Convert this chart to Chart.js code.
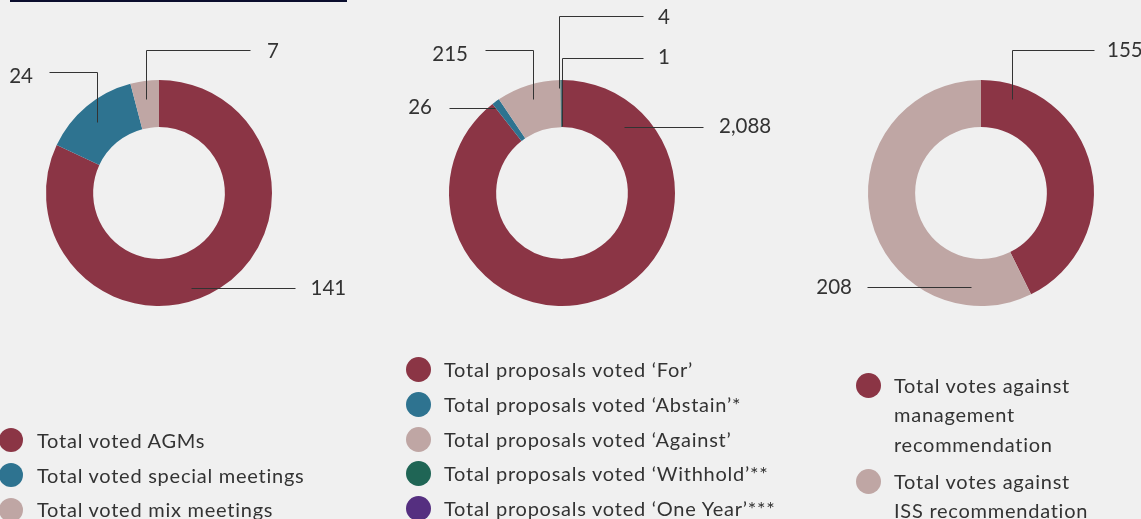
<!DOCTYPE html>
<html>
<head>
<meta charset="utf-8">
<script src="https://cdn.jsdelivr.net/npm/chart.js@4"></script>
<style>
  html, body { margin: 0; padding: 0; background: #f0f0f0; }
  #stage { position: relative; width: 1141px; height: 519px; overflow: hidden; background: #f0f0f0; font-family: Lato, "Open Sans", sans-serif; color: #333; }
  canvas.layer { position: absolute; left: 0; top: 0; pointer-events: none; }
  #rule { position: absolute; left: 10px; top: 0; width: 337px; height: 2px; background: #0b0e2e; }
  .legend { position: absolute; font-size: 20px; letter-spacing: 0.75px; }
  .item { position: relative; }
  .item .dot { position: absolute; border-radius: 50%; }
</style>
</head>
<body>
<div id="stage">
  <div id="rule"></div>
  <canvas id="c1" class="layer" width="1141" height="519"></canvas>
  <canvas id="c2" class="layer" width="1141" height="519"></canvas>
  <canvas id="c3" class="layer" width="1141" height="519"></canvas>
</div>
<script>
// ---------- data ----------
const meetingLabels = ['Total voted AGMs', 'Total voted special meetings', 'Total voted mix meetings'];
const meetingValues = [141, 24, 7];

const proposalLabels = ["Total proposals voted \u2018For\u2019", "Total proposals voted \u2018Abstain\u2019*", "Total proposals voted \u2018Against\u2019", "Total proposals voted \u2018Withhold\u2019**", "Total proposals voted \u2018One Year\u2019***"];
const proposalValues = [2088, 26, 215, 4, 1];

const againstLabels = [['Total votes against', 'management', 'recommendation'], ['Total votes against', 'ISS recommendation']];
const againstValues = [155, 208];

// ---------- styles ----------
const MAROON = '#8b3545', TEAL = '#2e7390', MAUVE = '#bfa6a4', GREEN = '#1f6555', PURPLE = '#552f80';
const meetingColors = [MAROON, TEAL, MAUVE];
const proposalColors = [MAROON, TEAL, MAUVE, GREEN, PURPLE];
const againstColors = [MAROON, MAUVE];

// leader-line layout, offsets relative to the doughnut centre computed by Chart.js
const meetingLeaders = [
  { index: 0, path: [[32, 94.5], [136, 94.5]], text: [151.5, 95], align: 'left' },
  { index: 1, path: [[-62, -71], [-62, -121], [-110, -121]], text: [-126, -117], align: 'right' },
  { index: 2, path: [[-13, -94], [-13, -143], [91, -143]], text: [108, -142], align: 'left' }
];
const proposalLeaders = [
  { index: 0, path: [[62, -66], [141, -66]], text: [157, -67], align: 'left' },
  { index: 1, path: [[-67, -85], [-113, -85]], text: [-130, -86], align: 'right' },
  { index: 2, path: [[-29, -94], [-29, -143], [-77, -143]], text: [-94, -139], align: 'right' },
  { index: 3, path: [[-3, -105], [-3, -177], [81, -177]], text: [96, -176], align: 'left' },
  { index: 4, path: [[0, -67], [0, -135], [81, -135]], text: [96, -136], align: 'left' }
];
const againstLeaders = [
  { index: 0, path: [[31, -94], [31, -143], [113, -143]], text: [126, -143], align: 'left' },
  { index: 1, path: [[-10, 94], [-114, 94]], text: [-129, 94], align: 'right' }
];

const leaderPlugin = {
  id: 'leaders',
  afterDatasetsDraw(chart, args, opts) {
    const meta = chart.getDatasetMeta(0);
    const data = chart.data.datasets[0].data;
    const ctx = chart.ctx;
    ctx.save();
    ctx.strokeStyle = '#333';
    ctx.lineWidth = 1;
    ctx.fillStyle = '#333';
    ctx.font = '20.5px Lato, "Open Sans", sans-serif';
    ctx.textBaseline = 'middle';
    opts.items.forEach(it => {
      const arc = meta.data[it.index];
      const cx = arc.x, cy = arc.y;
      ctx.beginPath();
      it.path.forEach((p, i) => {
        const x = Math.round(cx + p[0]) + 0.5, y = Math.round(cy + p[1]) + 0.5;
        if (i === 0) ctx.moveTo(x, y); else ctx.lineTo(x, y);
      });
      ctx.stroke();
      ctx.textAlign = it.align;
      ctx.fillText(data[it.index].toLocaleString('en-US'), cx + it.text[0], cy + it.text[1]);
    });
    ctx.restore();
  }
};

function makeChart(id, values, colors, leaders, area) {
  return new Chart(document.getElementById(id), {
    type: 'doughnut',
    data: { labels: values.map((_, i) => String(i)), datasets: [{ data: values, backgroundColor: colors, borderWidth: 0, hoverOffset: 0 }] },
    options: {
      responsive: false,
      animation: false,
      events: [],
      cutout: '58.3%',
      layout: { padding: { left: area.left, top: area.top, right: 1141 - area.left - area.size, bottom: 519 - area.top - area.size } },
      plugins: { legend: { display: false }, tooltip: { enabled: false }, leaders: { items: leaders } }
    },
    plugins: [leaderPlugin]
  });
}

makeChart('c1', meetingValues, meetingColors, meetingLeaders, { left: 46, top: 80, size: 226 });
makeChart('c2', proposalValues, proposalColors, proposalLeaders, { left: 449, top: 80, size: 226 });
makeChart('c3', againstValues, againstColors, againstLeaders, { left: 868, top: 80, size: 226 });

// ---------- HTML legends ----------
function makeLegend(labels, colors, cfg) {
  const box = document.createElement('div');
  box.className = 'legend';
  box.style.left = cfg.textX + 'px';
  box.style.top = cfg.top + 'px';
  box.style.lineHeight = cfg.lineHeight + 'px';
  labels.forEach((lab, i) => {
    const item = document.createElement('div');
    item.className = 'item';
    if (i < labels.length - 1) item.style.marginBottom = cfg.gap + 'px';
    const lines = Array.isArray(lab) ? lab : [lab];
    lines.forEach(l => { const d = document.createElement('div'); d.textContent = l; d.style.whiteSpace = 'nowrap'; item.appendChild(d); });
    const dot = document.createElement('span');
    dot.className = 'dot';
    dot.style.width = dot.style.height = (cfg.r * 2) + 'px';
    dot.style.background = colors[i];
    dot.style.left = (cfg.dotX - cfg.textX - cfg.r) + 'px';
    dot.style.top = (cfg.lineHeight / 2 - cfg.r) + 'px';
    item.appendChild(dot);
    box.appendChild(item);
  });
  document.getElementById('stage').appendChild(box);
}
makeLegend(meetingLabels, meetingColors, { textX: 37, dotX: 11, r: 12, top: 422.8, lineHeight: 34.8, gap: 0 });
makeLegend(proposalLabels, proposalColors, { textX: 444, dotX: 418.5, r: 12.5, top: 352.1, lineHeight: 34.8, gap: 0 });
makeLegend(againstLabels, againstColors, { textX: 894, dotX: 868.5, r: 12.5, top: 371.2, lineHeight: 29.3, gap: 7.7 });
</script>
</body>
</html>
